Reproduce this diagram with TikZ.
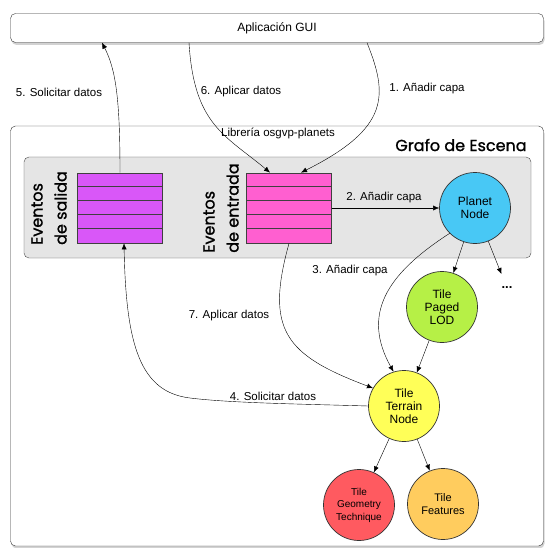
\documentclass[tikz,border=0pt]{standalone}
\usepackage{fontspec}
\setmainfont{Liberation Sans}
\newfontfamily\futurafont[FakeBold=1.2]{Poppins}
\usetikzlibrary{shadows,arrows.meta}

\definecolor{colsalida}{HTML}{D957F8}
\definecolor{colentrada}{HTML}{FF5FD0}
\definecolor{colplanet}{HTML}{48C8F5}
\definecolor{colpaged}{HTML}{B6F046}
\definecolor{colterrain}{HTML}{FFFF58}
\definecolor{colgeom}{HTML}{FF5A60}
\definecolor{colfeat}{HTML}{FFCC5E}
\definecolor{colpanel}{HTML}{E5E5E5}

\begin{document}
\begin{tikzpicture}[x=1pt, y=-1pt, >={Latex[length=6pt,width=5pt]},
	lbl/.style={font=\fontsize{11.5}{13}\selectfont},
	caja/.style={draw=black!80, rounded corners=5pt, fill=white, drop shadow={opacity=0.35, shadow xshift=1pt, shadow yshift=-2.5pt}},
	cola/.style={draw=black!75, line width=0.8pt, minimum width=85pt, minimum height=70pt, inner sep=0pt},
	evt/.style={rotate=90, align=left, font=\futurafont\fontsize{16}{24}\selectfont},
	nodo/.style={circle, draw=black!80, line width=0.7pt, minimum size=71pt, inner sep=0pt, align=center, font=\fontsize{12}{13}\selectfont}]
	\fill[white] (0,0) rectangle (545,548);
	\useasboundingbox (0,0) rectangle (545,548);
	% cajas
	\node[caja, minimum width=533pt, minimum height=29pt, inner sep=0pt, font=\fontsize{12}{14}\selectfont] (gui) at (277,28) {Aplicación GUI};
	\node[caja, minimum width=533pt, minimum height=420pt] (grafo) at (277,336) {};
	\node[lbl] (lib) at (278,133) {Librería osgvp-planets};
	\node[font=\futurafont\fontsize{16}{18}\selectfont] (titulo) at (461,145) {Grafo de Escena};
	\node[draw=black!70, fill=colpanel, rounded corners=5pt, minimum width=507pt, minimum height=101pt] (panel) at (277.5,207.5) {};
	% colas de eventos
	\node[cola, fill=colsalida] (salida) at (120,208) {};
	\node[cola, fill=colentrada] (entrada) at (289,208) {};
	\foreach \q in {salida,entrada}
		\foreach \i in {1,...,4}
			\draw[black!75, line width=0.8pt] (\q.north west) ++(0,14*\i) -- ++(85,0);
	\node[evt] (salidatxt) at (49,208) {Eventos\\de salida};
	\node[evt] (entradatxt) at (221,208) {Eventos\\de entrada};
	% nodos del grafo
	\node[nodo, fill=colplanet] (planet) at (475,208) {Planet\\Node};
	\node[nodo, fill=colpaged] (paged) at (442,307) {Tile\\Paged\\LOD};
	\node[nodo, fill=colterrain] (terrain) at (404,406) {Tile\\Terrain\\Node};
	\node[nodo, fill=colgeom, font=\fontsize{10}{12.5}\selectfont] (geom) at (359,505) {Tile\\Geometry\\Technique};
	\node[nodo, fill=colfeat, font=\fontsize{11}{12.5}\selectfont] (feat) at (443,504) {Tile\\Features};
	\node[minimum height=36pt, inner sep=0pt, font=\bfseries\fontsize{13}{14}\selectfont] (dots) at (507,288) {...};
	% flechas
	\draw[->] (salida.north) .. controls (120,100) and (116,70) .. ([xshift=-175pt]gui.south);
	\draw[->] ([xshift=-88pt]gui.south) .. controls (194,125) and (225,135) .. ([xshift=-19pt]entrada.north);
	\draw[->] ([xshift=90pt]gui.south) .. controls (388,95) and (390,128) .. ([xshift=12pt]entrada.north);
	\draw[->] (entrada.east) -- (planet.west);
	\draw[->] (planet.225) .. controls (385,275) and (362,315) .. (terrain.107);
	\draw[->] (planet) -- (paged);
	\draw[->] (planet) -- (dots);
	\draw[->] (paged) -- (terrain);
	\draw[->] (entrada.south) .. controls (265,330) and (285,355) .. (terrain.150);
	\draw[->] (terrain.west) .. controls (300,404) and (230,403) .. (190,398) .. controls (140,392) and (126,345) .. ([xshift=4pt]salida.south);
	\draw[->] (terrain) -- (geom);
	\draw[->] (terrain) -- (feat);
	% etiquetas
	\node[lbl] (l1) at (427,89) {1. Añadir capa};
	\node[lbl] (l2) at (384,198) {2. Añadir capa};
	\node[lbl] (l3) at (350,271) {3. Añadir capa};
	\node[lbl] (l4) at (273,396) {4. Solicitar datos};
	\node[lbl] (l5) at (59,92) {5. Solicitar datos};
	\node[lbl] (l6) at (241,92) {6. Aplicar datos};
	\node[lbl] (l7) at (229,316) {7. Aplicar datos};
\end{tikzpicture}
\end{document}
